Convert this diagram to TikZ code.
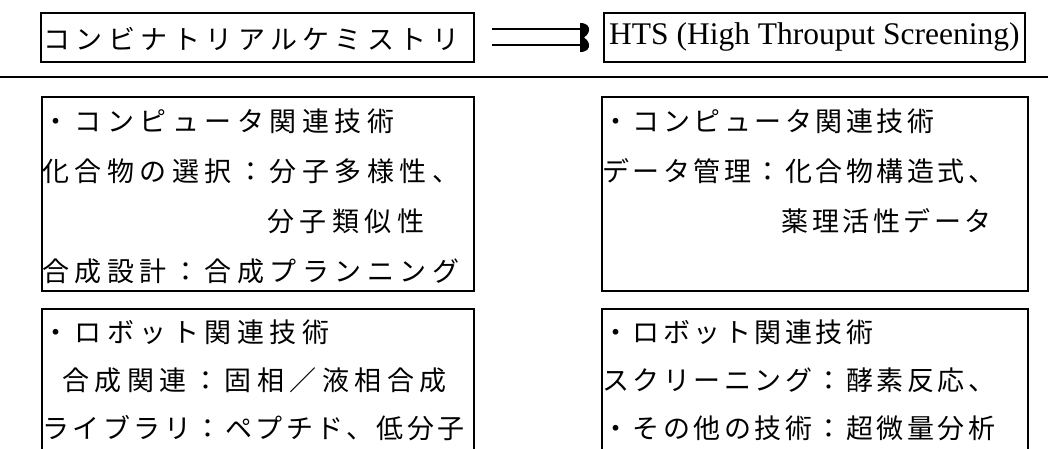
\documentclass[tikz,border=0pt]{standalone}
\usepackage{fontspec}
\setmainfont{Liberation Serif}
\newfontfamily\jpa[LetterSpace=20.4]{Noto Sans CJK JP}
\newfontfamily\jpb[LetterSpace=13]{Noto Sans CJK JP}
\tikzset{
  frame/.style={draw, line width=2pt, rectangle, inner sep=0pt, anchor=north west},
  jtxt/.style={anchor=base west, inner sep=0pt, font=\jpa\fontsize{27}{30}\selectfont},
  jtxtr/.style={anchor=base west, inner sep=0pt, font=\jpb\fontsize{27}{30}\selectfont},
  etxt/.style={anchor=base west, inner sep=0pt, font=\fontsize{31.5}{36}\selectfont},
  rule/.style={line width=2pt},
  dblarrow/.style={line width=2pt, double, double distance=14pt},
}
\begin{document}
\begin{tikzpicture}[x=1pt, y=-1pt]
\useasboundingbox (0,0) rectangle (1048,449);
\clip (0,0) rectangle (1048,449);

% header boxes
\node[frame, minimum width=433pt, minimum height=49pt] (tl) at (40,12) {};
\node[frame, minimum width=421pt, minimum height=49pt] (tr) at (603,12) {};
\node[jtxt] (tlt) at (43,49.3) {コンビナトリアルケミストリ};
\node[etxt] (trt) at (609,45) {HTS (High Throuput Screening)};

% arrow
\draw[dblarrow, shorten <=17pt, shorten >=21pt] (tl.east) -- (tr.west);
\begin{scope}[shift={([xshift=-23pt]tr.west)}]
\fill (0,-14.5) .. controls (7,-14.5) and (9.5,-11) .. (9,-7)
      .. controls (8.5,-3) and (5,-1) .. (4,0)
      .. controls (5,1) and (8.5,3) .. (9,7)
      .. controls (9.5,11) and (7,14.5) .. (0,14.5) -- cycle;
\end{scope}

% horizontal rule
\draw[rule] (0,77) -- (1048,77);

% middle boxes
\node[frame, minimum width=432pt, minimum height=194pt] (ml) at (41,96) {};
\node[frame, minimum width=426pt, minimum height=194pt] (mr) at (601,96) {};
\node[jtxt] (ml1) at (42,131.3) {・コンピュータ関連技術};
\node[jtxt] (ml2) at (42,181.3) {化合物の選択：分子多様性、};
\node[jtxt] (ml3) at (45,231.3) {\phantom{化合物の選択：}分子類似性};
\node[jtxt] (ml4) at (42,281.3) {合成設計：合成プランニング};
\node[jtxtr] (mr1) at (602,131.3) {・コンピュータ関連技術};
\node[jtxtr] (mr2) at (602,181.3) {データ管理：化合物構造式、};
\node[jtxtr] (mr3) at (602,231.3) {\phantom{データ管理：}薬理活性データ};

% bottom boxes (cut by the page edge)
\node[frame, minimum width=432pt, minimum height=170pt] (bl) at (41,308) {};
\node[frame, minimum width=426pt, minimum height=170pt] (br) at (601,308) {};
\node[jtxt] (bl1) at (42,342.3) {・ロボット関連技術};
\node[jtxt] (bl2) at (62,390.3) {合成関連：固相／液相合成};
\node[jtxtr] (bl3) at (42,438.3) {ライブラリ：ペプチド、低分子};
\node[jtxtr] (br1) at (602,342.3) {・ロボット関連技術};
\node[jtxtr] (br2) at (602,390.3) {スクリーニング：酵素反応、};
\node[jtxtr] (br3) at (602,438.3) {・その他の技術：超微量分析};
\end{tikzpicture}
\end{document}
